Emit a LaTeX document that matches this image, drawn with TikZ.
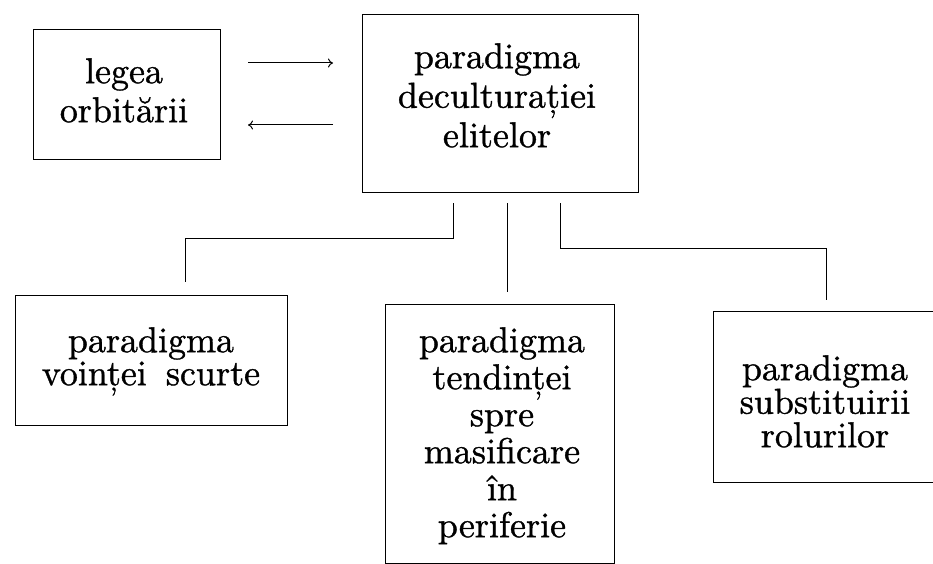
\documentclass[tikz,border=0pt]{standalone}
\usepackage{fontspec}
\newfontfamily\scanfont{lmroman10-regular.otf}[FakeBold=1]
\usetikzlibrary{arrows.meta}
\begin{document}
\begin{tikzpicture}[x=1pt,y=-1pt,
  box/.style={draw, line width=1pt, inner sep=0pt},
  lbl/.style={align=center, inner sep=0pt, anchor=north, font=\scanfont\fontsize{36}{#1}\selectfont},
  conn/.style={line width=1pt},
  arr/.style={line width=1pt, -{To[length=5pt,width=9pt]}}]
\useasboundingbox (0,0) rectangle (933,564);
% boxes
\node[box, minimum width=187pt, minimum height=130pt] (A) at (126.5,95) {};
\node[box, minimum width=276pt, minimum height=177pt] (B) at (500,103.5) {};
\node[box, minimum width=272pt, minimum height=130pt] (C1) at (151,360) {};
\node[box, minimum width=229pt, minimum height=259pt] (C2) at (499.5,433.5) {};
\node[box, minimum width=240pt, minimum height=171pt] (C3) at (833,396.5) {};
% labels
\node[lbl=39] (tA) at (124,58) {legea\\orbitării};
\node[lbl=39.5] (tB) at (497,43) {paradigma\\deculturației\\elitelor};
\node[lbl=33] (tC1) at (151,327) {paradigma\\voinței\hspace{19pt}scurte};
\node[lbl=37] (tC2) at (502,327) {paradigma\\tendinței\\spre\\masificare\\în\\periferie};
\node[lbl=33.5] (tC3) at (825,355) {paradigma\\substituirii\\rolurilor};
% arrows between A and B
\coordinate (a1) at (248,63);
\coordinate (b1) at (333,63);
\coordinate (b2) at (333,125);
\coordinate (a2) at (248,125);
\draw[arr] (a1) -- (b1);
\draw[arr] (b2) -- (a2);
% connectors
\coordinate (s1) at (453,203);
\coordinate (k1) at (185,238);
\coordinate (e1) at (185,282);
\coordinate (s2) at (507,203);
\coordinate (e2) at (507,292);
\coordinate (s3) at (560,203);
\coordinate (k3) at (826,248);
\coordinate (e3) at (826,300);
\draw[conn] (s1) |- (k1) -- (e1);
\draw[conn] (s2) -- (e2);
\draw[conn] (s3) |- (k3) -- (e3);
\end{tikzpicture}
\end{document}
